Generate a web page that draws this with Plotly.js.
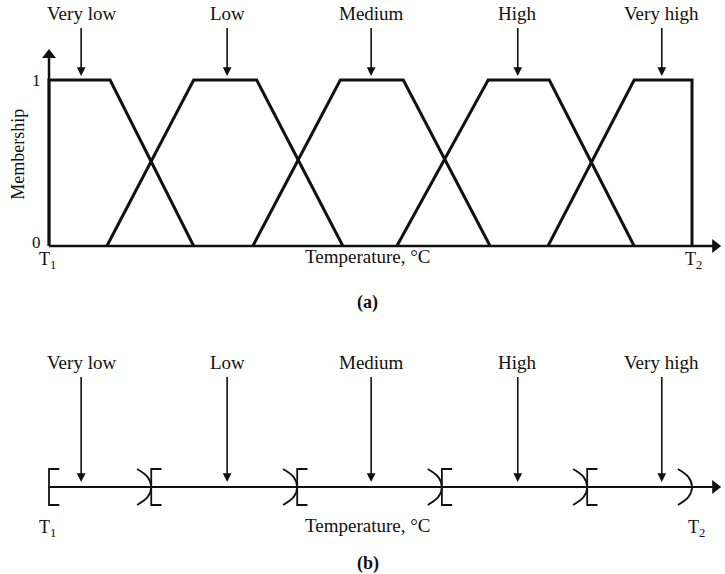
<!DOCTYPE html>
<html><head><meta charset="utf-8">
<script src="https://cdn.plot.ly/plotly-3.0.1.min.js"></script>
<style>html,body{margin:0;padding:0;background:#fff}#chart{width:725px;height:574px}</style>
</head><body><div id="chart"></div>
<script>
// Fuzzy terms over temperature scale, T1 = 0, T2 = 100
const terms = ["Very low", "Low", "Medium", "High", "Very high"];
const footLeft = [0, 9.0, 31.7, 54.1, 77.6];
const shoulderLeft = [0, 22.5, 45.3, 68.3, 91.0];
const shoulderRight = [9.5, 32.3, 55.1, 77.8, 100];
const footRight = [22.5, 45.7, 68.6, 91.0, 100];
const termCenters = [5.0, 27.7, 50.1, 72.9, 95.3];
const intervalBounds = [15.9, 38.6, 61.1, 83.7];
const membershipTicks = [0, 1];
const membershipTickText = ["0", "1"];
const T1 = 0, T2 = 100;
const xAxisEnd = 103.6, yAxisEnd = 1.15;

const serif = "Liberation Serif, Times New Roman, serif";
const ink = "#111";
const traces = [];
const base = {hoverinfo: "skip", showlegend: false};

// (a) trapezoidal membership functions
for (let i = 0; i < terms.length; i++) {
  traces.push(Object.assign({
    x: [footLeft[i], shoulderLeft[i], shoulderRight[i], footRight[i]],
    y: [0, 1, 1, 0],
    mode: "lines", line: {color: ink, width: 3}, xaxis: "x", yaxis: "y"
  }, base));
}
// axes of (a) with arrowheads
traces.push(Object.assign({x: [T1, T1], y: [0, yAxisEnd], mode: "lines", line: {color: ink, width: 2.5}, xaxis: "x", yaxis: "y"}, base));
traces.push(Object.assign({x: [T1, xAxisEnd], y: [0, 0], mode: "lines", line: {color: ink, width: 2.5}, xaxis: "x", yaxis: "y"}, base));
traces.push(Object.assign({x: [T1], y: [yAxisEnd], mode: "markers", marker: {symbol: "triangle-up", size: 12, color: ink}, xaxis: "x", yaxis: "y"}, base));
traces.push(Object.assign({x: [xAxisEnd], y: [0], mode: "markers", marker: {symbol: "triangle-right", size: 12, color: ink}, xaxis: "x", yaxis: "y"}, base));

// (b) crisp intervals
traces.push(Object.assign({x: [T1, xAxisEnd], y: [0, 0], mode: "lines", line: {color: ink, width: 2}, xaxis: "x2", yaxis: "y2"}, base));
traces.push(Object.assign({x: [xAxisEnd], y: [0], mode: "markers", marker: {symbol: "triangle-right", size: 12, color: ink}, xaxis: "x2", yaxis: "y2"}, base));
const bh = 18, tick = 1.6, arcW = 2.2;
function openBracket(b) {
  traces.push(Object.assign({x: [b + tick, b, b, b + tick], y: [bh, bh, -bh, -bh], mode: "lines",
    line: {color: ink, width: 1.8}, xaxis: "x2", yaxis: "y2"}, base));
}
function closeArc(b) {
  traces.push(Object.assign({x: [b - arcW, b - arcW * 0.25, b, b - arcW * 0.25, b - arcW], y: [bh, bh * 0.55, 0, -bh * 0.55, -bh],
    mode: "lines", line: {color: ink, width: 1.8, shape: "spline"}, xaxis: "x2", yaxis: "y2"}, base));
}
openBracket(T1);
intervalBounds.forEach(b => { closeArc(b); openBracket(b); });
closeArc(T2);

const annotations = [];
terms.forEach((t, i) => {
  annotations.push({x: termCenters[i], y: 1, xref: "x", yref: "y", text: t, showarrow: true,
    ax: 0, ay: -67, arrowhead: 2, arrowsize: 1.1, arrowwidth: 1.6, arrowcolor: ink, standoff: 4, startstandoff: 3,
    font: {family: serif, size: 19, color: ink}});
  annotations.push({x: termCenters[i], y: 0, xref: "x2", yref: "y2", text: t, showarrow: true,
    ax: 0, ay: -125, arrowhead: 2, arrowsize: 1.1, arrowwidth: 1.6, arrowcolor: ink, standoff: 5, startstandoff: 3,
    font: {family: serif, size: 19, color: ink}});
});
// texts
const txt = (text, x, y, xref, yref, size, extra) => Object.assign({text, x, y, xref, yref, showarrow: false, font: {family: serif, size, color: ink}}, extra || {});
membershipTicks.forEach((v, i) => {
  annotations.push(txt(membershipTickText[i], 0.0044, v, "paper", "y", 17, {xanchor: "right", yshift: v === 0 ? 3 : 0}));
});
annotations.push(txt("Temperature, °C", 49.6, -0.066, "x", "y", 19));
annotations.push(txt("<b>(a)</b>", 49.6, -0.343, "x", "y", 18));
annotations.push(txt("T<sub>1</sub>", -0.3, -0.09, "x", "y", 18));
annotations.push(txt("T<sub>2</sub>", 100.3, -0.085, "x", "y", 18));
annotations.push(txt("Membership", -0.032, 0.55, "paper", "y", 18, {textangle: -90, xanchor: "center"}));
annotations.push(txt("Temperature, °C", 49.6, -38, "x2", "y2", 19));
annotations.push(txt("<b>(b)</b>", 49.6, -76, "x2", "y2", 18));
annotations.push(txt("T<sub>1</sub>", -0.3, -41, "x2", "y2", 18));
annotations.push(txt("T<sub>2</sub>", 100.7, -41, "x2", "y2", 18));

const hidden = {showgrid: false, zeroline: false, showline: false, showticklabels: false, ticks: "", fixedrange: true};
const layout = {
  width: 725, height: 574,
  margin: {l: 40, r: 0, t: 0, b: 0},
  paper_bgcolor: "#fff", plot_bgcolor: "#fff",
  showlegend: false,
  xaxis: Object.assign({}, hidden, {range: [-1.4, 105.13], domain: [0, 1], anchor: "y"}),
  yaxis: Object.assign({}, hidden, {range: [-0.593, 1.482], domain: [0.4, 1], anchor: "x"}),
  xaxis2: Object.assign({}, hidden, {range: [-1.4, 105.13], domain: [0, 1], anchor: "y2"}),
  yaxis2: Object.assign({}, hidden, {range: [-87, 142.6], domain: [0, 0.4], anchor: "x2"}),
  annotations
};
Plotly.newPlot("chart", traces, layout, {staticPlot: true, displayModeBar: false});
</script></body></html>
